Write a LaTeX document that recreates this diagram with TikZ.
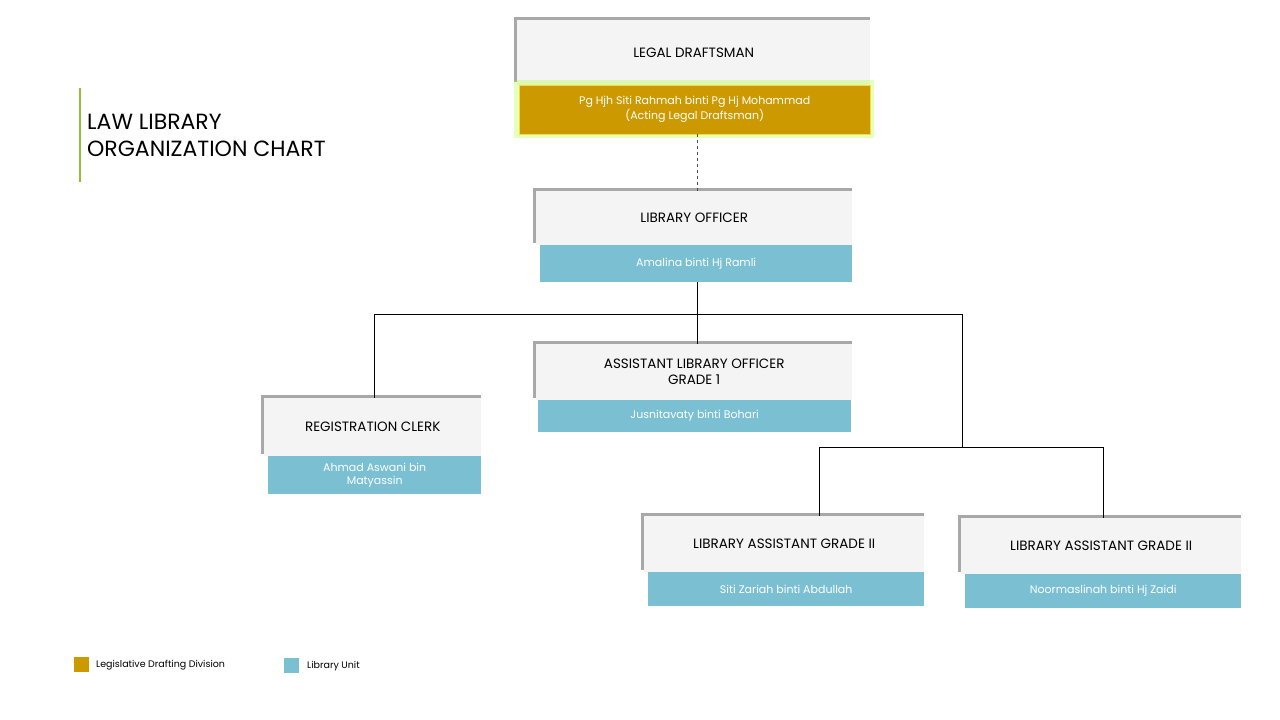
\documentclass[tikz,border=0pt]{standalone}
\usepackage{fontspec}
\setmainfont{Poppins}
\definecolor{gold}{HTML}{CC9900}
\definecolor{libblue}{HTML}{7BBFD2}
\definecolor{boxgrey}{HTML}{F4F4F4}
\definecolor{edgegrey}{HTML}{A8A8A8}
\tikzset{
 titlebox/.style={anchor=north west,inner sep=0pt,fill=boxgrey,font=\fontsize{13.5}{16}\selectfont,text=black,align=center},
 namebar/.style={anchor=north west,inner sep=0pt,font=\fontsize{11}{15}\selectfont,text=white,align=center},
 conn/.style={draw=black,line width=0.7pt}
}
\newcommand{\orgbox}[9]{% name, x1,y1,x2,y2 (grey), bar x1,y2, colour, title
 \fill[edgegrey] (#2-3,#3-3) rectangle (#4,#5-8);
 \node[titlebox,minimum width=#4-#2,minimum height=#5-#3] (#1t) at (#2,#3) {#9};
}
\begin{document}
\begin{tikzpicture}[x=1pt,y=-1pt]
\useasboundingbox (0,0) rectangle (1280,720);
% title
\draw[color={rgb,255:red,150;green,190;blue,60},line width=1.5pt] (80,88) -- (80,182);
\node[anchor=west,inner sep=0pt,font=\fontsize{22}{27}\selectfont,align=left] (title) at (87,135) {LAW LIBRARY\\ORGANIZATION CHART};
% Legal draftsman
\fill[edgegrey] (514,17) rectangle (870,82);
\node[titlebox,minimum width=353,minimum height=65] (ldt) at (517,20) {\raisebox{0pt}{LEGAL DRAFTSMAN}};
\fill[green!40!yellow,opacity=0.25] (514,80) rectangle (874,138);
\node[namebar,fill=gold,draw={rgb,255:red,240;green,220;blue,60},minimum width=351,minimum height=49] (ld) at (519,85) {Pg Hjh Siti Rahmah binti Pg Hj Mohammad\\(Acting Legal Draftsman)};
% Library officer
\fill[edgegrey] (533,188) rectangle (852,243);
\node[titlebox,minimum width=316,minimum height=54] (lot) at (536,191) {LIBRARY OFFICER};
\node[namebar,fill=libblue,minimum width=312,minimum height=37] (lo) at (540,245) {Amalina binti Hj Ramli};
% Assistant library officer
\fill[edgegrey] (533,341) rectangle (852,398);
\node[titlebox,minimum width=316,minimum height=56] (alot) at (536,344) {ASSISTANT LIBRARY OFFICER\\GRADE 1};
\node[namebar,fill=libblue,minimum width=313,minimum height=32] (alo) at (538,400) {Jusnitavaty binti Bohari};
% Registration clerk
\fill[edgegrey] (261,395) rectangle (481,454);
\node[titlebox,minimum width=217,minimum height=58] (rct) at (264,398) {REGISTRATION CLERK};
\node[namebar,fill=libblue,minimum width=213,minimum height=38,font=\fontsize{11}{13}\selectfont] (rc) at (268,456) {Ahmad Aswani bin\\Matyassin};
% Library assistant 1
\fill[edgegrey] (641,513) rectangle (924,570);
\node[titlebox,minimum width=280,minimum height=56] (la1t) at (644,516) {LIBRARY ASSISTANT GRADE II};
\node[namebar,fill=libblue,minimum width=276,minimum height=34] (la1) at (648,572) {Siti Zariah binti Abdullah};
% Library assistant 2
\fill[edgegrey] (958,515) rectangle (1241,572);
\node[titlebox,minimum width=280,minimum height=56] (la2t) at (961,518) {LIBRARY ASSISTANT GRADE II};
\node[namebar,fill=libblue,minimum width=276,minimum height=34] (la2) at (965,574) {Noormaslinah binti Hj Zaidi};
% connectors
\draw[conn,dashed,draw=black!70] (ld.south -| 697,0) -- (lot.north -| 697,0);
\coordinate (hub) at (697,314);
\coordinate (hub2) at (962,447);
\draw[conn] (lo.south -| 697,0) -- (alot.north -| 697,0);
\draw[conn] (rct.north -| 374,0) -- (374,314) -- (962,314) -- (hub2);
\draw[conn] (la1t.north -| 819,0) -- (819,447) -- (1103,447) -- (la2t.north -| 1103,0);
% legend
\node[fill=gold,minimum size=15,inner sep=0pt,anchor=north west] (lg1) at (74,657) {};
\node[anchor=west,inner sep=0pt,font=\fontsize{9.5}{11}\selectfont] (lt1) at (96,665) {Legislative Drafting Division};
\node[fill=libblue,minimum size=15,inner sep=0pt,anchor=north west] (lg2) at (284,658) {};
\node[anchor=west,inner sep=0pt,font=\fontsize{9.5}{11}\selectfont] (lt2) at (307,666) {Library Unit};
\end{tikzpicture}
\end{document}
